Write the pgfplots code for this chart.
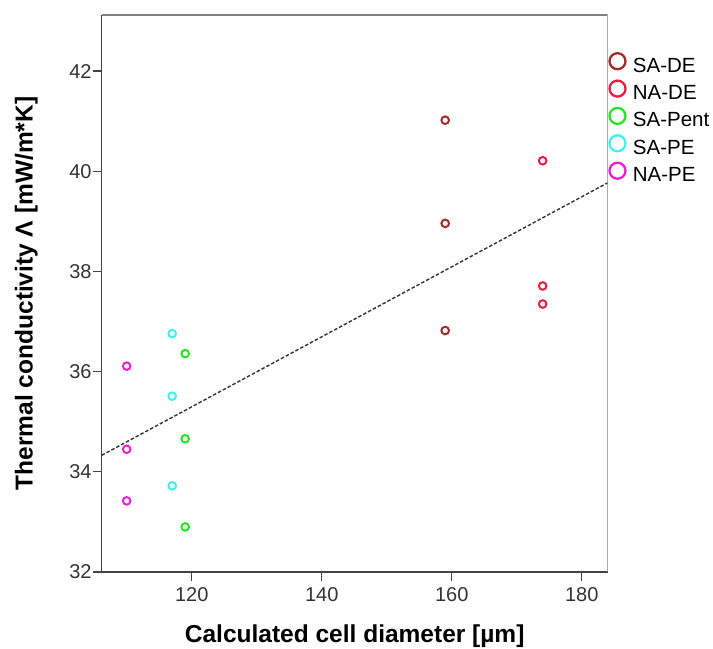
\documentclass[border=0pt]{standalone}
\usepackage{fontspec}
\setmainfont{Liberation Sans}
\usepackage{pgfplots}
\pgfplotsset{compat=1.18}

\definecolor{cSADE}{HTML}{A52A2A}
\definecolor{cNADE}{HTML}{EC1C40}
\definecolor{cSAPent}{HTML}{22E622}
\definecolor{cSAPE}{HTML}{3CF2F2}
\definecolor{cNAPE}{HTML}{F01ED2}
\definecolor{axgray}{HTML}{444444}

\begin{document}
\begin{tikzpicture}
\begin{axis}[
  scale only axis,
  width=506pt, height=557pt,
  xmin=106.15, xmax=184,
  ymin=32, ymax=43.12,
  axis lines=left,
  axis line style={-, draw=axgray, line width=1.3pt},
  xtick={120,140,160,180},
  ytick={32,34,36,38,40,42},
  tick align=outside,
  major tick length=9pt,
  tick style={draw=axgray, line width=1.3pt},
  /pgf/number format/assume math mode=true,
  ticklabel style={font=\fontsize{20}{24}\selectfont, text=black!80},
  yticklabel style={inner sep=1pt},
  xticklabel style={inner sep=2pt, yshift=-4pt},
  xlabel={Calculated cell diameter [µm]},
  ylabel={Thermal conductivity Λ [mW/m*K]},
  label style={font=\bfseries\fontsize{24.5}{28}\selectfont},
  xlabel style={at={(axis description cs:0.5,-0.1257)}, anchor=base},
  ylabel style={at={(axis description cs:-0.1366,0.5)}, anchor=base},
  legend style={at={(axis description cs:1,1)}, anchor=north west,
    draw=none, fill=none, inner sep=0pt, yshift=-38pt,
    font=\fontsize{20.5}{24}\selectfont, row sep=6pt,
    nodes={inner sep=1pt}},
  legend cell align=left,
  legend image code/.code={%
    \path (0pt,0pt) (22pt,0pt);
    \draw[#1, mark size=8pt, line width=2.3pt] plot coordinates {(8.6pt,4.5pt)};},
]
\addplot[draw=black!80, line width=1.4pt, dash pattern=on 3.5pt off 2pt, forget plot]
  coordinates {(106.15,34.33) (184,39.77)};

\addplot[only marks, mark=o, draw=cSADE, mark size=3.8pt, line width=2pt]
  coordinates {(159,41.02) (159,38.96) (159,36.82)};
\addlegendentry{SA-DE}
\addplot[only marks, mark=o, draw=cNADE, mark size=3.8pt, line width=2pt]
  coordinates {(174,40.21) (174,37.71) (174,37.35)};
\addlegendentry{NA-DE}
\addplot[only marks, mark=o, draw=cSAPent, mark size=3.8pt, line width=2pt]
  coordinates {(119,36.36) (119,34.66) (119,32.90)};
\addlegendentry{SA-Pent}
\addplot[only marks, mark=o, draw=cSAPE, mark size=3.8pt, line width=2pt]
  coordinates {(117,36.76) (117,35.51) (117,33.72)};
\addlegendentry{SA-PE}
\addplot[only marks, mark=o, draw=cNAPE, mark size=3.8pt, line width=2pt]
  coordinates {(110,36.11) (110,34.45) (110,33.42)};
\addlegendentry{NA-PE}

% light top and right frame
\draw[black!50, line width=1.3pt] (rel axis cs:0,1) -- (rel axis cs:1,1) -- (rel axis cs:1,0);
\end{axis}
\pgfresetboundingbox
\path ([xshift=-101.7pt,yshift=-76pt]current axis.south west)
  rectangle ([xshift=105.3pt,yshift=15pt]current axis.north east);
\end{tikzpicture}
\end{document}
